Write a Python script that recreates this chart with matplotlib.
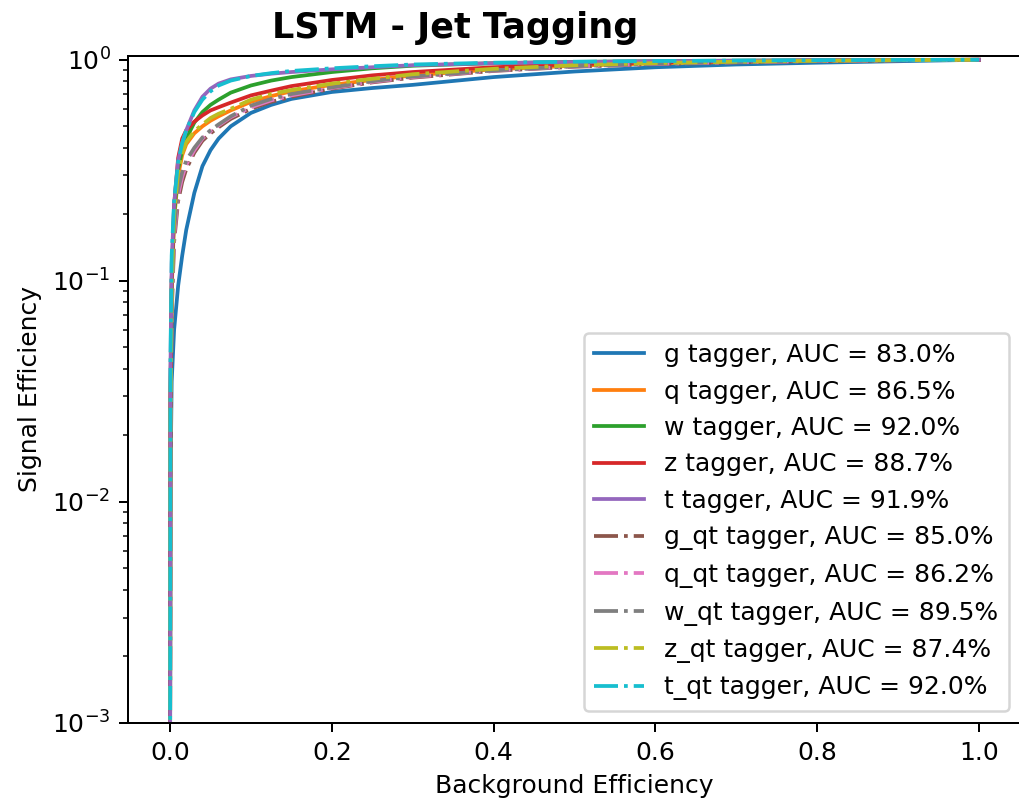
import matplotlib
matplotlib.use("Agg")
import matplotlib.pyplot as plt

# background efficiency grid (false positive rate)
fpr = [0.0, 0.0005, 0.002, 0.005, 0.01, 0.015, 0.02, 0.03, 0.04, 0.05,
       0.06, 0.075, 0.1, 0.125, 0.15, 0.2, 0.25, 0.3, 0.4, 0.5,
       0.6, 0.7, 0.8, 0.9, 1.0]

# signal efficiency
tpr_g = [0.0005, 0.012, 0.035, 0.06, 0.095, 0.13, 0.17, 0.25, 0.33, 0.39,
         0.44, 0.50, 0.575, 0.625, 0.665, 0.715, 0.745, 0.77, 0.835, 0.885,
         0.925, 0.952, 0.97, 0.985, 1.0]
tpr_q = [0.0005, 0.025, 0.09, 0.19, 0.30, 0.37, 0.415, 0.465, 0.50, 0.53,
         0.555, 0.59, 0.645, 0.685, 0.72, 0.77, 0.81, 0.85, 0.905, 0.94,
         0.963, 0.978, 0.989, 0.996, 1.0]
tpr_w = [0.0005, 0.03, 0.10, 0.20, 0.32, 0.39, 0.44, 0.52, 0.58, 0.625,
         0.66, 0.71, 0.765, 0.805, 0.835, 0.88, 0.915, 0.94, 0.965, 0.978,
         0.986, 0.991, 0.995, 0.998, 1.0]
tpr_z = [0.0005, 0.03, 0.10, 0.22, 0.36, 0.44, 0.48, 0.525, 0.56, 0.59,
         0.61, 0.64, 0.69, 0.725, 0.76, 0.81, 0.85, 0.88, 0.925, 0.955,
         0.972, 0.984, 0.992, 0.997, 1.0]
tpr_t = [0.0005, 0.04, 0.12, 0.22, 0.35, 0.42, 0.48, 0.59, 0.68, 0.74,
         0.78, 0.815, 0.845, 0.865, 0.88, 0.905, 0.925, 0.945, 0.965, 0.977,
         0.985, 0.99, 0.995, 0.998, 1.0]
tpr_g_qt = [0.0005, 0.02, 0.07, 0.15, 0.23, 0.28, 0.32, 0.38, 0.43, 0.465,
            0.495, 0.54, 0.60, 0.645, 0.68, 0.74, 0.79, 0.83, 0.89, 0.93,
            0.955, 0.973, 0.986, 0.995, 1.0]
tpr_q_qt = [0.0005, 0.02, 0.075, 0.16, 0.245, 0.295, 0.335, 0.39, 0.44, 0.475,
            0.505, 0.55, 0.61, 0.655, 0.69, 0.745, 0.795, 0.835, 0.893, 0.933,
            0.958, 0.975, 0.987, 0.995, 1.0]
tpr_w_qt = [0.0005, 0.025, 0.08, 0.17, 0.26, 0.31, 0.35, 0.40, 0.445, 0.48,
            0.51, 0.555, 0.62, 0.665, 0.70, 0.75, 0.80, 0.84, 0.895, 0.935,
            0.96, 0.976, 0.988, 0.996, 1.0]
tpr_z_qt = [0.0005, 0.025, 0.09, 0.20, 0.31, 0.38, 0.425, 0.475, 0.51, 0.545,
            0.57, 0.60, 0.66, 0.70, 0.73, 0.78, 0.82, 0.86, 0.91, 0.945,
            0.966, 0.98, 0.99, 0.996, 1.0]
tpr_t_qt = [0.0005, 0.045, 0.13, 0.23, 0.345, 0.42, 0.48, 0.58, 0.66, 0.72,
            0.765, 0.805, 0.845, 0.87, 0.89, 0.915, 0.935, 0.952, 0.97, 0.98,
            0.987, 0.992, 0.996, 0.998, 1.0]

labels = ["g tagger, AUC = 83.0%", "q tagger, AUC = 86.5%",
          "w tagger, AUC = 92.0%", "z tagger, AUC = 88.7%",
          "t tagger, AUC = 91.9%", "g_qt tagger, AUC = 85.0%",
          "q_qt tagger, AUC = 86.2%", "w_qt tagger, AUC = 89.5%",
          "z_qt tagger, AUC = 87.4%", "t_qt tagger, AUC = 92.0%"]

curves = [tpr_g, tpr_q, tpr_w, tpr_z, tpr_t,
          tpr_g_qt, tpr_q_qt, tpr_w_qt, tpr_z_qt, tpr_t_qt]
styles = ["-"] * 5 + ["-."] * 5

DPI = 180
fig = plt.figure(figsize=(1019 / DPI, 799 / DPI), dpi=DPI)
ax = fig.add_axes([128 / 1019, 76 / 799, 893 / 1019, 667 / 799])

for tpr, lab, ls in zip(curves, labels, styles):
    ax.plot(fpr, tpr, ls, label=lab)

ax.set_yscale("log")
ax.set_ylim(0.001, 1.04)
ax.set_xlim(-0.052, 1.052)
ax.set_xlabel("Background Efficiency")
ax.set_ylabel("Signal Efficiency")
ax.legend(loc="lower right")
fig.text(455 / 1019, 1 - 38 / 799, "LSTM - Jet Tagging", ha="center",
         va="baseline", fontsize=14, fontweight="bold")

fig.savefig("out.png", dpi=DPI)
